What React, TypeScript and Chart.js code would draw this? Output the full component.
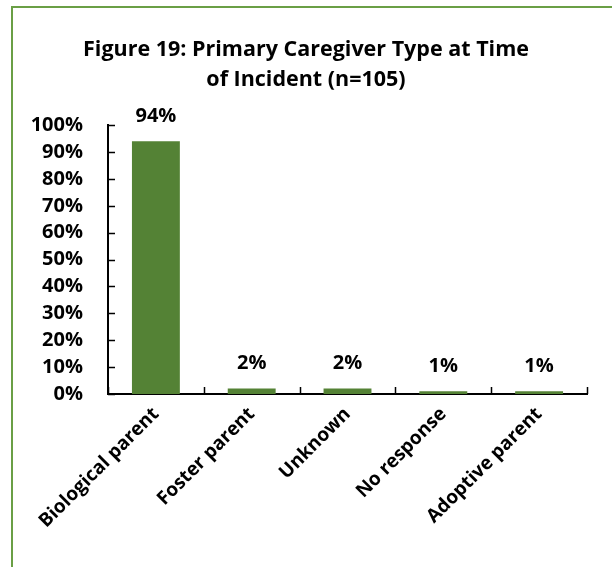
import React, { useEffect, useRef } from "react";
import { Chart, registerables } from "chart.js";

Chart.register(...registerables);

const categories = ["Biological parent", "Foster parent", "Unknown", "No response", "Adoptive parent"];
const values = [94, 2, 2, 1, 1];
const titleLines = ["Figure 19: Primary Caregiver Type at Time", "of Incident (n=105)"];
const yMin = 0;
const yMax = 100;
const yStep = 10;

const FONT = "'Open Sans', 'Liberation Sans', sans-serif";
const BAR_COLOR = "#548235";
const FRAME_COLOR = "#6a9f45";

const inwardTicks = {
  id: "inwardTicks",
  afterDatasetsDraw(chart: any) {
    const { ctx, chartArea } = chart;
    const x = chart.scales.x;
    const y = chart.scales.y;
    ctx.save();
    ctx.strokeStyle = "#000";
    ctx.lineWidth = 1.5;
    ctx.beginPath();
    y.ticks.forEach((_t: any, i: number) => {
      const py = Math.round(y.getPixelForTick(i)) + 0.5;
      ctx.moveTo(chartArea.left, py);
      ctx.lineTo(chartArea.left + 7, py);
    });
    for (let i = 0; i <= categories.length; i++) {
      const px = Math.round(x.getPixelForValue(i - 0.5)) + 0.5;
      ctx.moveTo(px, chartArea.bottom);
      ctx.lineTo(px, chartArea.bottom - 7);
    }
    ctx.stroke();
    ctx.restore();
  },
};

const dataLabels = {
  id: "dataLabels",
  afterDatasetsDraw(chart: any) {
    const { ctx } = chart;
    const meta = chart.getDatasetMeta(0);
    const data = chart.data.datasets[0].data as number[];
    ctx.save();
    ctx.fillStyle = "#000";
    ctx.font = `bold 20px ${FONT}`;
    ctx.textAlign = "center";
    ctx.textBaseline = "middle";
    meta.data.forEach((bar: any, i: number) => {
      ctx.fillText(`${data[i]}%`, bar.x, bar.y - 25);
    });
    ctx.restore();
  },
};

export default function App() {
  const ref = useRef<HTMLCanvasElement>(null);

  useEffect(() => {
    if (!ref.current) return;
    const chart = new Chart(ref.current, {
      type: "bar",
      data: {
        labels: categories,
        datasets: [
          {
            data: values,
            backgroundColor: BAR_COLOR,
            borderWidth: 0,
            barPercentage: 0.5,
            categoryPercentage: 1,
          },
        ],
      },
      options: {
        responsive: false,
        animation: false,
        devicePixelRatio: 1,
        layout: { padding: { left: 25, right: 25, top: 0, bottom: 0 } },
        plugins: {
          legend: { display: false },
          tooltip: { enabled: false },
          title: {
            display: true,
            text: titleLines,
            color: "#000",
            font: { family: FONT, size: 21.5, weight: "bold", lineHeight: 1.4 },
            padding: { top: 35, bottom: 30 },
          },
        },
        scales: {
          x: {
            grid: { display: false, offset: true },
            border: { display: true, color: "#000", width: 2 },
            ticks: {
              color: "#000",
              font: { family: FONT, size: 19, weight: "bold" },
              minRotation: 45,
              maxRotation: 45,
              autoSkip: false,
              padding: 1,
            },
            afterFit: (s: any) => {
              s.height = 173;
            },
          },
          y: {
            min: yMin,
            max: yMax,
            grid: { display: false },
            border: { display: true, color: "#000", width: 2 },
            ticks: {
              stepSize: yStep,
              autoSkip: false,
              color: "#000",
              padding: 17,
              font: { family: FONT, size: 20, weight: "bold" },
              callback: (v: any) => `${v}%`,
            },
            afterFit: (s: any) => {
              s.width = 83;
            },
          },
        },
      },
      plugins: [inwardTicks, dataLabels],
    });
    return () => chart.destroy();
  }, []);

  return (
    <div>
      <div
        style={{
          position: "fixed",
          left: 11,
          top: 6,
          width: 800,
          height: 800,
          borderLeft: `2px solid ${FRAME_COLOR}`,
          borderTop: `2px solid ${FRAME_COLOR}`,
          boxSizing: "border-box",
        }}
      />
      <canvas
        ref={ref}
        width={612}
        height={567}
        style={{ position: "fixed", left: 0, top: 0, width: 612, height: 567 }}
      />
    </div>
  );
}
